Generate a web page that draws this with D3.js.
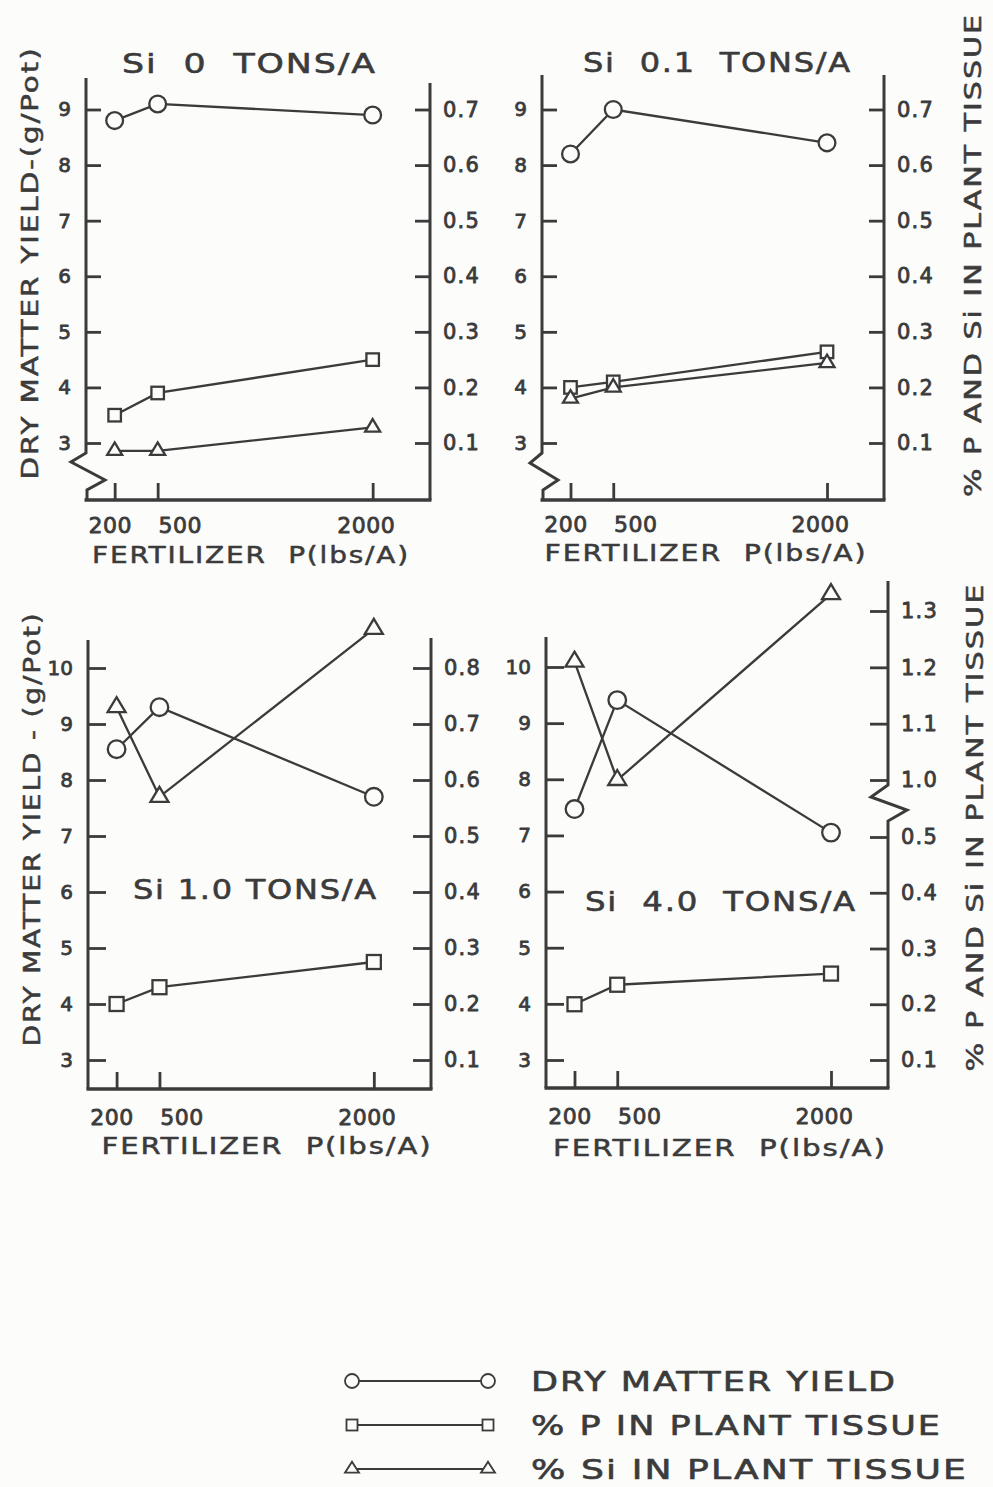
<!DOCTYPE html>
<html>
<head>
<meta charset="utf-8">
<script src="https://cdn.jsdelivr.net/npm/d3@7"></script>
<style>
  html, body { margin: 0; padding: 0; background: #fcfcfb; }
  svg { display: block; }
  svg text { white-space: pre; }
</style>
</head>
<body>
<svg id="chart" width="993" height="1487"></svg>
<script>
// ---- data -------------------------------------------------------------
// Fertilizer P rates (lbs/A)
const pLevels = [200, 500, 2000];
const pTickLabels = ["200", "500", "2000"];

const panelTitles = ["Si  0  TONS/A", "Si  0.1  TONS/A", "Si 1.0 TONS/A", "Si  4.0  TONS/A"];

// Dry matter yield (g/pot)
const yieldSi0  = [8.8, 9.1, 8.9];
const yieldSi01 = [8.2, 9.0, 8.4];
const yieldSi1  = [8.55, 9.3, 7.7];
const yieldSi4  = [7.47, 9.41, 7.05];

// % P in plant tissue
const pctPSi0  = [0.15, 0.19, 0.25];
const pctPSi01 = [0.20, 0.21, 0.264];
const pctPSi1  = [0.20, 0.23, 0.275];
const pctPSi4  = [0.20, 0.235, 0.255];

// % Si in plant tissue
const pctSiSi0  = [0.086, 0.086, 0.128];
const pctSiSi01 = [0.18, 0.20, 0.244];
const pctSiSi1  = [0.73, 0.57, 0.87];
const pctSiSi4  = [1.21, 1.00, 1.33];

// Axis tick values
const yieldTicksTop    = [3, 4, 5, 6, 7, 8, 9];
const yieldTicksBottom = [3, 4, 5, 6, 7, 8, 9, 10];
const pctTicksTop      = [0.1, 0.2, 0.3, 0.4, 0.5, 0.6, 0.7];
const pctTicksSi1      = [0.1, 0.2, 0.3, 0.4, 0.5, 0.6, 0.7, 0.8];
const pctTicksSi4      = [0.1, 0.2, 0.3, 0.4, 0.5, 1.0, 1.1, 1.2, 1.3];

const legendLabels = ["DRY MATTER YIELD", "% P IN PLANT TISSUE", "% Si IN PLANT TISSUE"];

// ---- layout -----------------------------------------------------------
const INK = "#3b3b3b";
const PAPER = "#fcfcfb";
const FONT = "'DejaVu Sans', 'Liberation Sans', sans-serif";

const panels = [
  { title: panelTitles[0], yieldV: yieldSi0, pV: pctPSi0, siV: pctSiSi0,
    xL: 86, xR: 430, yBot: 500, topL: 78, topR: 83,
    yDom: [3, 9], yRng: [443, 109.5], yTicks: yieldTicksTop,
    pDom: [0.1, 0.7], pRng: [443, 109.5], pTicks: pctTicksTop,
    breakSide: "left", brk: [453, -15, 462, 19, 480, 1, 490],
    titleX: 249.5, titleY: 63, titleW: 255,
    xTitleX: 251, xTitleY: 554, xTitleW: 318, xLabPad: 17, big: false },
  { title: panelTitles[1], yieldV: yieldSi01, pV: pctPSi01, siV: pctSiSi01,
    xL: 542, xR: 884, yBot: 500, topL: 75, topR: 75,
    yDom: [3, 9], yRng: [443, 109.5], yTicks: yieldTicksTop,
    pDom: [0.1, 0.7], pRng: [443, 109.5], pTicks: pctTicksTop,
    breakSide: "left", brk: [453, -12, 463, 16, 480, 1, 490],
    titleX: 717.5, titleY: 62, titleW: 269,
    xTitleX: 706, xTitleY: 552, xTitleW: 323, xLabPad: 16, big: false },
  { title: panelTitles[2], yieldV: yieldSi1, pV: pctPSi1, siV: pctSiSi1,
    xL: 88, xR: 431, yBot: 1089, topL: 640, topR: 638,
    yDom: [3, 10], yRng: [1060, 668], yTicks: yieldTicksBottom,
    pDom: [0.1, 0.8], pRng: [1060, 668], pTicks: pctTicksSi1,
    breakSide: null,
    titleX: 255.5, titleY: 889, titleW: 245,
    xTitleX: 267, xTitleY: 1145, xTitleW: 331, xLabPad: 20, big: true },
  { title: panelTitles[3], yieldV: yieldSi4, pV: pctPSi4, siV: pctSiSi4,
    xL: 546, xR: 888, yBot: 1088, topL: 637, topR: 581,
    yDom: [3, 10], yRng: [1060, 667], yTicks: yieldTicksBottom,
    pDom: [0.1, 0.5, 1.0, 1.3], pRng: [1060, 837, 780, 611], pTicks: pctTicksSi4,
    breakSide: "right", brk: [785, -17, 797, 19, 810, 0, 821],
    titleX: 721, titleY: 901, titleW: 272,
    xTitleX: 720, xTitleY: 1147, xTitleW: 334, xLabPad: 20, big: true }
];

// shifts of the x tick numbers relative to their ticks
const xLabelShift = [-5, 22, -7];

const svg = d3.select("#chart");
svg.append("rect").attr("width", 993).attr("height", 1487).attr("fill", PAPER);

// lettering with a slightly heavier pen
function pen(sel, size, weight) {
  return sel.attr("font-family", FONT).attr("font-size", size).attr("fill", INK)
    .attr("stroke", INK).attr("stroke-width", weight).attr("stroke-linejoin", "round");
}
// text stretched to a fixed run length, wide lettering
function fitted(sel, len, spacing) {
  return sel.attr("textLength", len).attr("lengthAdjust", "spacingAndGlyphs")
    .attr("letter-spacing", spacing);
}

// marker shapes
function trianglePath(w, h) {
  // centred on the centroid
  return `M0,${-2 * h / 3} L${w / 2},${h / 3} L${-w / 2},${h / 3} Z`;
}
function drawMarker(g, kind, x, y, big) {
  if (kind === "circle") {
    g.append("circle").attr("cx", x).attr("cy", y).attr("r", big ? 8.8 : 8.4);
  } else if (kind === "square") {
    const s = big ? 14 : 12.5;
    g.append("rect").attr("x", x - s / 2).attr("y", y - s / 2).attr("width", s).attr("height", s);
  } else {
    g.append("path").attr("transform", `translate(${x},${y})`)
      .attr("d", big ? trianglePath(18, 15) : trianglePath(15, 12.5));
  }
}

panels.forEach(p => {
  const g = svg.append("g");
  const x = d3.scaleLinear().domain([0, 2400]).range([p.xL, p.xR]);
  const yL = d3.scaleLinear().domain(p.yDom).range(p.yRng);
  const yR = d3.scaleLinear().domain(p.pDom).range(p.pRng);

  // frame: left axis, right axis, bottom axis (with scale breaks)
  let leftPath, rightPath;
  if (p.breakSide === "left") {
    const b = p.brk;
    leftPath = `M${p.xL},${p.topL} V${b[0]} L${p.xL + b[1]},${b[2]} L${p.xL + b[3]},${b[4]} L${p.xL + b[5]},${b[6]} V${p.yBot}`;
  } else {
    leftPath = `M${p.xL},${p.topL} V${p.yBot}`;
  }
  if (p.breakSide === "right") {
    const b = p.brk;
    rightPath = `M${p.xR},${p.topR} V${b[0]} L${p.xR + b[1]},${b[2]} L${p.xR + b[3]},${b[4]} L${p.xR + b[5]},${b[6]} V${p.yBot}`;
  } else {
    rightPath = `M${p.xR},${p.topR} V${p.yBot}`;
  }
  g.append("path").attr("d", leftPath).attr("fill", "none").attr("stroke", INK)
    .attr("stroke-width", 3).attr("stroke-linejoin", "miter");
  g.append("path").attr("d", rightPath).attr("fill", "none").attr("stroke", INK)
    .attr("stroke-width", 3).attr("stroke-linejoin", "miter");
  g.append("line").attr("x1", p.xL - 1.5).attr("x2", p.xR + 1.5)
    .attr("y1", p.yBot).attr("y2", p.yBot).attr("stroke", INK).attr("stroke-width", 3.4);

  // axes: ticks pointing inward, numbers outside
  const tickLen = p.big ? 18 : 15;
  const axL = g.append("g").attr("transform", `translate(${p.xL},0)`)
    .call(d3.axisLeft(yL).tickValues(p.yTicks).tickSizeInner(-tickLen).tickSizeOuter(0)
      .tickPadding(15).tickFormat(d3.format("d")));
  const axR = g.append("g").attr("transform", `translate(${p.xR},0)`)
    .call(d3.axisRight(yR).tickValues(p.pTicks).tickSizeInner(-tickLen).tickSizeOuter(0)
      .tickPadding(13).tickFormat(d3.format(".1f")));
  const axB = g.append("g").attr("transform", `translate(0,${p.yBot})`)
    .call(d3.axisBottom(x).tickValues(pLevels).tickSizeInner(-17).tickSizeOuter(0)
      .tickPadding(p.xLabPad).tickFormat((d, i) => pTickLabels[i]));
  [axL, axR, axB].forEach(a => {
    a.select(".domain").remove();
    a.selectAll(".tick line").attr("stroke", INK).attr("stroke-width", 2.8);
    pen(a.selectAll(".tick text"), 20, 0.8);
  });
  axR.selectAll(".tick text").attr("font-size", 21).attr("letter-spacing", 1.2);
  axB.selectAll(".tick text").attr("font-size", 22).attr("letter-spacing", 0.5)
    .attr("dx", (d, i) => xLabelShift[i]);

  // series
  const series = [
    { vals: p.yieldV, scale: yL, kind: "circle" },
    { vals: p.pV, scale: yR, kind: "square" },
    { vals: p.siV, scale: yR, kind: "triangle" }
  ];
  const line = d3.line();
  series.forEach(s => {
    const pts = s.vals.map((v, i) => [x(pLevels[i]), s.scale(v)]);
    g.append("path").attr("d", line(pts)).attr("fill", "none")
      .attr("stroke", INK).attr("stroke-width", 2.3);
  });
  series.forEach(s => {
    const mg = g.append("g").attr("fill", PAPER).attr("stroke", INK).attr("stroke-width", 2.3);
    s.vals.forEach((v, i) => drawMarker(mg, s.kind, x(pLevels[i]), s.scale(v), p.big));
  });

  // panel title
  fitted(pen(g.append("text"), 27, 0.6), p.titleW, 1.5)
    .attr("x", p.titleX - p.titleW / 2).attr("y", p.titleY + 10)
    .text(p.title);

  // x axis title
  fitted(pen(g.append("text"), 23, 0.5), p.xTitleW, 1.5)
    .attr("x", p.xTitleX - p.xTitleW / 2).attr("y", p.xTitleY + 8.5)
    .text("FERTILIZER  P(lbs/A)");
});

// rotated axis titles
function vText(cx, cy, len, size, str) {
  const cap = size * 0.73;
  fitted(pen(svg.append("text"), size, 0.5), len, 1.5)
    .attr("transform", `translate(${cx},${cy}) rotate(-90)`)
    .attr("x", -len / 2).attr("y", cap / 2)
    .text(str);
}
vText(30, 263, 433, 23, "DRY MATTER YIELD-(g/Pot)");
vText(32, 829, 435, 23, "DRY MATTER YIELD - (g/Pot)");
vText(973, 255, 484, 23, "% P AND Si IN PLANT TISSUE");
vText(975, 827, 489, 23, "% P AND Si IN PLANT TISSUE");

// legend
const legendRows = [1381, 1425, 1469];
const legendKinds = ["circle", "square", "triangle"];
const legendTextW = [366, 411, 437];
legendKinds.forEach((k, i) => {
  const y = legendRows[i];
  const lg = svg.append("g");
  lg.append("line").attr("x1", 352).attr("x2", 488).attr("y1", y).attr("y2", y)
    .attr("stroke", INK).attr("stroke-width", 1.8);
  const mg = lg.append("g").attr("fill", PAPER).attr("stroke", INK).attr("stroke-width", 1.8);
  [352, 488].forEach(xx => {
    if (k === "circle") mg.append("circle").attr("cx", xx).attr("cy", y).attr("r", 7);
    else if (k === "square") mg.append("rect").attr("x", xx - 5.5).attr("y", y - 5.5).attr("width", 11).attr("height", 11);
    else mg.append("path").attr("transform", `translate(${xx},${y})`).attr("d", trianglePath(14, 11));
  });
  fitted(pen(lg.append("text"), 26, 0.6), legendTextW[i], 1.5)
    .attr("x", 531).attr("y", y + 9.5)
    .text(legendLabels[i]);
});
</script>
</body>
</html>
